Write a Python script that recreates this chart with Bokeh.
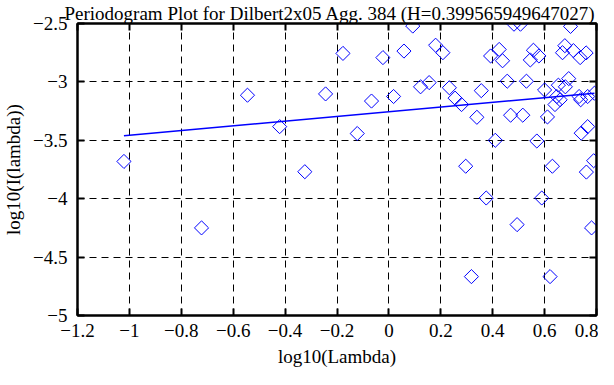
import numpy as np
from bokeh.plotting import figure
from bokeh.models import LinearAxis, Range1d, FixedTicker, CustomJSTickFormatter
from bokeh.embed import file_html
from bokeh.resources import INLINE

title_text = "Periodogram Plot for Dilbert2x05 Agg. 384 (H=0.399565949647027)"
hurst = 0.399565949647027
fit_intercept = -3.256

log_lambda = [
    -1.021, -0.722, -0.545, -0.421, -0.324, -0.244, -0.177, -0.122, -0.067, -0.023,
    0.018, 0.058, 0.092, 0.122, 0.155, 0.180, 0.208, 0.233, 0.255, 0.280,
    0.296, 0.318, 0.339, 0.356, 0.375, 0.392, 0.410, 0.425, 0.438, 0.456,
    0.469, 0.482, 0.494, 0.507, 0.516, 0.530, 0.545, 0.557, 0.570, 0.578,
    0.589, 0.600, 0.611, 0.621, 0.630, 0.640, 0.647, 0.653, 0.660, 0.669,
    0.678, 0.680, 0.693, 0.700, 0.711, 0.733, 0.737, 0.739, 0.741, 0.760,
    0.761, 0.766, 0.766, 0.781, 0.789, 0.792,
]
log_periodogram = [
    -3.681, -4.250, -3.114, -3.383, -3.769, -3.103, -2.756, -3.442, -3.164, -2.792,
    -3.125, -2.736, -2.522, -3.042, -3.006, -2.686, -2.750, -3.050, -3.139, -3.194,
    -3.722, -4.667, -3.303, -3.075, -3.994, -2.778, -3.500, -2.722, -2.819, -2.994,
    -3.285, -2.506, -4.222, -2.506, -3.285, -2.994, -2.812, -2.729, -3.506, -2.778,
    -3.994, -3.069, -3.300, -4.667, -3.722, -3.194, -3.125, -3.028, -3.153, -2.750,
    -2.690, -3.042, -2.972, -2.525, -2.732, -3.125, -2.792, -3.153, -3.439, -2.752,
    -3.772, -3.383, -3.125, -4.250, -3.675, -3.097,
]

x_ticks = [-1.2, -1.0, -0.8, -0.6, -0.4, -0.2, 0.0, 0.2, 0.4, 0.6, 0.8]
x_tick_labels = ["\u22121.2", "\u22121", "\u22120.8", "\u22120.6", "\u22120.4", "\u22120.2",
                 "0", "0.2", "0.4", "0.6", "0.8"]
y_ticks = [-5.0, -4.5, -4.0, -3.5, -3.0, -2.5]
y_tick_labels = ["\u22125", "\u22124.5", "\u22124", "\u22123.5", "\u22123", "\u22122.5"]

FONT = "Liberation Serif"
FS = "19px"

p = figure(width=598, height=369, output_backend="svg", toolbar_location=None,
           x_range=Range1d(-1.2, 0.8), y_range=Range1d(-5, -2.5),
           min_border_left=73, min_border_right=2, min_border_top=22, min_border_bottom=47)
p.background_fill_color = "white"
p.border_fill_color = "white"
p.outline_line_color = "black"
p.outline_line_width = 2

p.title.text = title_text
p.title.text_font = FONT
p.title.text_font_size = FS
p.title.text_font_style = "normal"
p.title.text_color = "black"
p.title.align = "left"
p.title.offset = -13
p.title.standoff = 0


def fmt(tick_values, labels):
    return CustomJSTickFormatter(args=dict(tv=tick_values, tl=labels), code="""
        let best = 0;
        for (let i = 0; i < tv.length; i++) {
            if (Math.abs(tv[i] - tick) < Math.abs(tv[best] - tick)) best = i;
        }
        return tl[best];
    """)


def style(ax, tick_values, labels, show):
    ax.ticker = FixedTicker(ticks=tick_values)
    ax.axis_line_color = "black"
    ax.axis_line_width = 2
    ax.major_tick_in = 7
    ax.major_tick_out = 0
    ax.major_tick_line_width = 2
    ax.major_tick_line_color = "black"
    ax.minor_tick_line_color = None
    if show:
        ax.formatter = fmt(tick_values, labels)
        ax.major_label_text_font = FONT
        ax.major_label_text_font_size = FS
        ax.major_label_text_color = "black"
        ax.axis_label_text_font = FONT
        ax.axis_label_text_font_size = FS
        ax.axis_label_text_font_style = "normal"
        ax.axis_label_text_color = "black"
    else:
        ax.major_label_text_font_size = "0px"
        ax.major_label_text_color = None
        ax.major_label_standoff = 0


xa = p.xaxis[0]
ya = p.yaxis[0]
style(xa, x_ticks, x_tick_labels, True)
style(ya, y_ticks, y_tick_labels, True)
xa.axis_label = "log10(Lambda)"
ya.axis_label = "log10(I(lambda))"
xa.major_label_standoff = 8
xa.axis_label_standoff = 6
ya.major_label_standoff = 10
ya.axis_label_standoff = 6

top = LinearAxis()
style(top, x_ticks, x_tick_labels, False)
p.add_layout(top, "above")
right = LinearAxis()
style(right, y_ticks, y_tick_labels, False)
p.add_layout(right, "right")

for g in (p.xgrid[0], p.ygrid[0]):
    g.grid_line_color = "black"
    g.grid_line_dash = "7 5"
    g.grid_line_width = 1
p.xgrid[0].ticker = FixedTicker(ticks=x_ticks)
p.ygrid[0].ticker = FixedTicker(ticks=y_ticks)

slope = 1 - 2 * hurst
fit_x = np.array([min(log_lambda), max(log_lambda)])
fit_y = fit_intercept + slope * fit_x
p.line(fit_x, fit_y, line_color="#0000ff", line_width=1.5)

p.scatter(log_lambda, log_periodogram, marker="square", size=10, angle=np.pi / 4,
          fill_color=None, line_color="#0000ff", line_width=1)

open("out.html", "w").write(file_html(p, INLINE))
